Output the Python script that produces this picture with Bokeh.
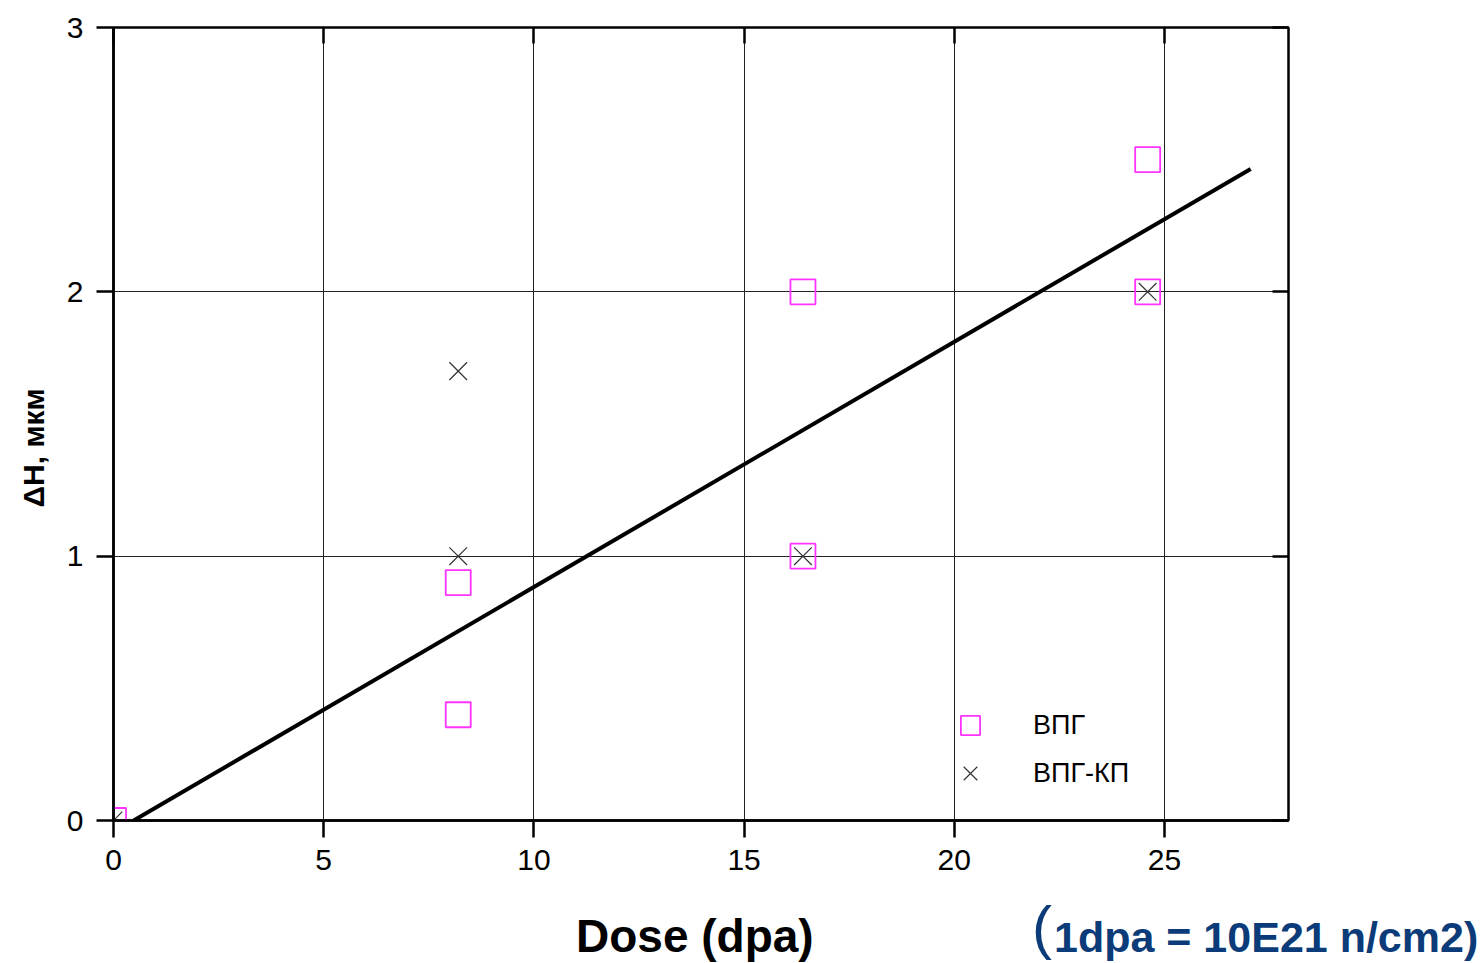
from bokeh.embed import file_html
from bokeh.layouts import column
from bokeh.models import Div, FixedTicker, Legend, LegendItem, LinearAxis, Title
from bokeh.plotting import figure
from bokeh.resources import INLINE

# Swelling height change ΔH (мкм) versus damage dose (dpa)
vpg_dose = [0.0, 8.2, 8.2, 16.4, 16.4, 24.6, 24.6]
vpg_dh = [0.0, 0.9, 0.4, 2.0, 1.0, 2.5, 2.0]

vpgkp_dose = [0.0, 8.2, 8.2, 16.4, 24.6]
vpgkp_dh = [0.0, 1.7, 1.0, 1.0, 2.0]

# end points of the linear trend line
fit_dose = [0.48, 27.05]
fit_dh = [0.0, 2.465]

x_ticks = [0, 5, 10, 15, 20, 25]
y_ticks = [0, 1, 2, 3]

series_labels = ["ВПГ", "ВПГ-КП"]
x_title = "Dose (dpa)"
y_title = "ΔH, мкм"
note_paren = "("
note_text = "1dpa = 10E21 n/cm2)"

FONT = "Liberation Sans"
NAVY = "#0b3b78"
MAGENTA = "#ff33ff"

p = figure(
    width=1484, height=890,
    x_range=(0, 27.95), y_range=(0, 3),
    output_backend="svg", toolbar_location=None,
    min_border_left=113, min_border_right=196,
    min_border_top=27, min_border_bottom=70,
    background_fill_color="white", border_fill_color="white",
)
p.outline_line_color = "black"
p.outline_line_width = 2.5

# grid
p.xgrid.ticker = FixedTicker(ticks=x_ticks)
p.ygrid.ticker = FixedTicker(ticks=y_ticks)
for g in (p.xgrid[0], p.ygrid[0]):
    g.grid_line_color = "#222222"
    g.grid_line_width = 1

# labelled axes (bottom, left)
for ax, ticks, standoff in ((p.xaxis[0], x_ticks, 12), (p.yaxis[0], y_ticks, 13)):
    ax.ticker = FixedTicker(ticks=ticks)
    ax.major_tick_in = 0
    ax.major_tick_out = 17
    ax.major_tick_line_width = 2.5
    ax.major_tick_line_color = "black"
    ax.minor_tick_line_color = None
    ax.axis_line_width = 2.5
    ax.axis_line_color = "black"
    ax.major_label_text_font = FONT
    ax.major_label_text_font_size = "30px"
    ax.major_label_text_color = "black"
    ax.major_label_standoff = standoff
p.yaxis[0].major_label_orientation = "horizontal"

# unlabelled mirror axes with inward ticks (top, right)
for side, ticks in (("above", x_ticks), ("right", y_ticks)):
    ax = LinearAxis(
        ticker=FixedTicker(ticks=ticks),
        major_tick_in=16, major_tick_out=0,
        major_tick_line_width=2.5, major_tick_line_color="black",
        minor_tick_line_color=None, axis_line_color=None,
        major_label_text_font_size="1px", major_label_text_color=None,
        major_label_overrides={t: "" for t in ticks},
    )
    p.add_layout(ax, side)

# y axis title, placed along the left side
p.add_layout(Title(text=y_title, align="left", offset=313,
                   text_font=FONT, text_font_style="bold",
                   text_font_size="30px", text_color="black",
                   standoff=28), "left")

# trend line and data
p.line(fit_dose, fit_dh, line_color="black", line_width=4)
sq = p.scatter(vpg_dose, vpg_dh, marker="square", size=25,
               fill_color=None, line_color=MAGENTA, line_width=1.8)
cr = p.scatter(vpgkp_dose, vpgkp_dh, marker="x", size=25,
               line_color="#333333", line_width=1.2)

legend = Legend(
    items=[LegendItem(label=series_labels[0], renderers=[sq]),
           LegendItem(label=series_labels[1], renderers=[cr])],
    location=(833, 23),
    glyph_width=48, glyph_height=48, spacing=0, padding=0, margin=0,
    label_standoff=39, label_text_font=FONT, label_text_font_size="27px",
    label_text_color="black",
    border_line_color=None, background_fill_alpha=0,
)
p.add_layout(legend)

# x axis title and dose-unit note underneath the plot
span = "position:absolute;white-space:nowrap;line-height:1;font-family:'Liberation Sans';"
note_html = (
    '<div style="position:relative;width:1484px;height:73px;">'
    f'<span style="{span}left:576px;top:23px;font-size:46px;font-weight:bold;color:#000;">{x_title}</span>'
    f'<span style="{span}left:1032px;top:8px;font-size:60px;color:{NAVY};">{note_paren}</span>'
    f'<span style="{span}left:1054px;top:26px;font-size:43px;font-weight:bold;color:{NAVY};">{note_text}</span>'
    '</div>'
)
notes = Div(text=note_html, width=1484, height=73, margin=0)

layout = column(p, notes, spacing=0)

open("out.html", "w").write(file_html(layout, INLINE))
